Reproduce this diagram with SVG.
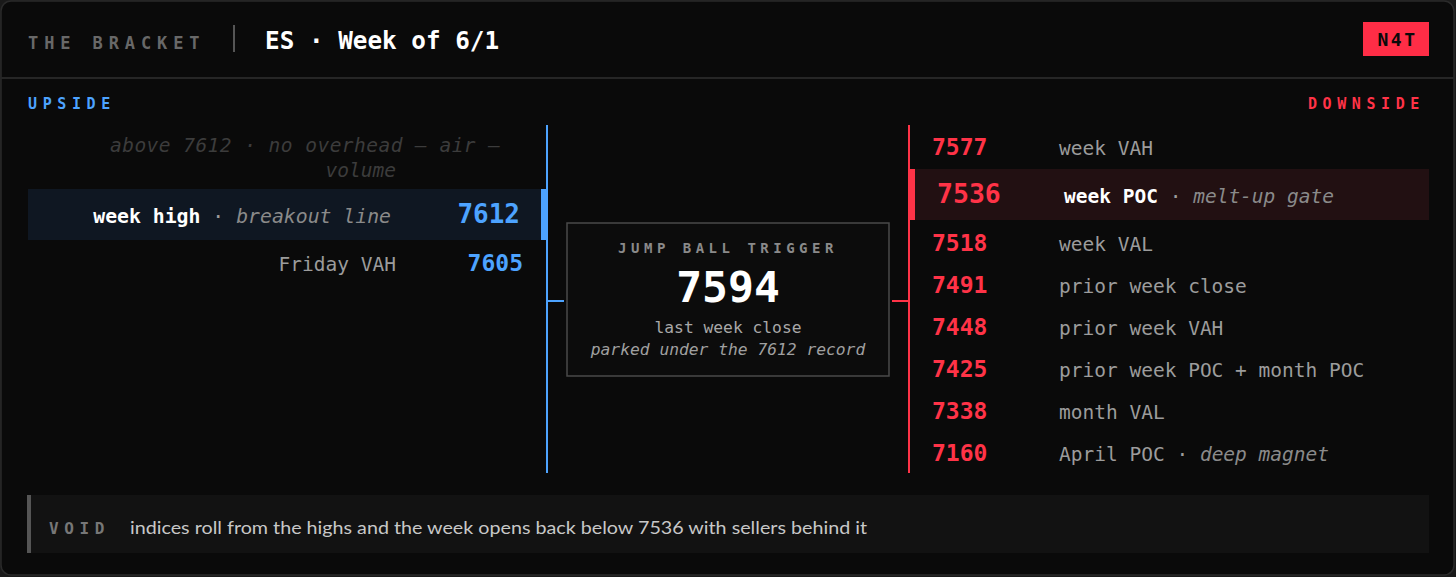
<svg xmlns="http://www.w3.org/2000/svg" width="1456" height="577" viewBox="0 0 1456 577">
<style>
.m{font-family:"DejaVu Sans Mono","Liberation Mono",monospace}
.lbl{font-size:19.5px;fill:#9c9c9c}
.it{font-style:italic;fill:#8a8a8a}
.hl{fill:#ffffff;font-weight:bold}
.nr{font-size:23px;font-weight:bold;fill:#ff3347}
.nb{font-size:23px;font-weight:bold;fill:#4da3ff}
.cap{font-size:15px;font-weight:bold;letter-spacing:5.6px}
</style>
<rect x="0" y="0" width="1456" height="577" fill="#1a1a1a"/>
<rect x="1" y="1" width="1453" height="574" rx="10" fill="#0a0a0a" stroke="#2a2a2a" stroke-width="1.5"/>
<g id="header">
<line x1="1" y1="78" x2="1454" y2="78" stroke="#262626" stroke-width="2"/>
<text class="m" x="28" y="49" font-size="17" font-weight="bold" letter-spacing="5.9" fill="#686868">THE BRACKET</text>
<rect x="233" y="25" width="2" height="27" fill="#555"/>
<text class="m" x="265" y="49" font-size="24.3" font-weight="bold" fill="#ffffff">ES · Week of 6/1</text>
<rect x="1363" y="22" width="66" height="34" fill="#ff2d46"/>
<text class="m" x="1397.5" y="46" font-size="18" font-weight="bold" letter-spacing="2.5" text-anchor="middle" fill="#0a0a0a">N4T</text>
</g>
<g id="upside">
<text class="m cap" x="28" y="109" fill="#4da3ff">UPSIDE</text>
<text class="m" x="500" y="152" font-size="19.5" font-style="italic" fill="#3c3c3c" text-anchor="end" textLength="390" lengthAdjust="spacing">above 7612 · no overhead — air —</text>
<text class="m" x="396" y="177" font-size="19.5" font-style="italic" fill="#3c3c3c" text-anchor="end">volume</text>
<g id="week-high">
<rect x="28" y="189" width="513" height="51" fill="#0f1722"/>
<rect x="541" y="189" width="6" height="51" fill="#4da3ff"/>
<text class="m lbl" x="391" y="223" text-anchor="end" style="font-size:19.8px"><tspan class="hl">week high</tspan> · <tspan class="it">breakout line</tspan></text>
<text class="m nb" x="520" y="223" style="font-size:26px" text-anchor="end">7612</text>
</g>
<g id="friday-vah">
<text class="m lbl" x="396" y="271" text-anchor="end">Friday VAH</text>
<text class="m nb" x="523" y="271" text-anchor="end">7605</text>
</g>
</g>
<g id="connectors">
<rect x="546" y="125" width="2" height="348" fill="#4da3ff"/>
<rect x="547" y="300" width="17" height="2" fill="#4da3ff"/>
<rect x="908" y="125" width="2" height="348" fill="#ff3347"/>
<rect x="892" y="300" width="17" height="2" fill="#ff3347"/>
</g>
<g id="trigger">
<rect x="567" y="223" width="322" height="153" fill="#0c0c0c" stroke="#4a4a4a" stroke-width="1.5"/>
<text class="m" x="728" y="253" font-size="14" font-weight="bold" letter-spacing="4.5" text-anchor="middle" fill="#8a8a8a">JUMP BALL TRIGGER</text>
<text class="m" x="728" y="302" font-size="43" font-weight="bold" text-anchor="middle" fill="#ffffff">7594</text>
<text class="m" x="728" y="333" font-size="16.3" text-anchor="middle" fill="#a8a8a8">last week close</text>
<text class="m" x="728" y="355" font-size="16.3" font-style="italic" text-anchor="middle" fill="#a0a0a0">parked under the 7612 record</text>
</g>
<g id="downside">
<text class="m cap" x="1425" y="109" fill="#ff3347" text-anchor="end">DOWNSIDE</text>
<g id="r7577"><text class="m nr" x="932" y="155">7577</text><text class="m lbl" x="1059" y="155">week VAH</text></g>
<g id="r7536">
<rect x="915" y="169" width="514" height="51" fill="#221012"/>
<rect x="909" y="169" width="6" height="51" fill="#ff3347"/>
<text class="m nr" x="937" y="203" style="font-size:26.5px">7536</text>
<text class="m lbl" x="1064" y="203"><tspan class="hl">week POC</tspan> · <tspan class="it">melt-up gate</tspan></text>
</g>
<g id="r7518"><text class="m nr" x="932" y="251">7518</text><text class="m lbl" x="1059" y="251">week VAL</text></g>
<g id="r7491"><text class="m nr" x="932" y="293">7491</text><text class="m lbl" x="1059" y="293">prior week close</text></g>
<g id="r7448"><text class="m nr" x="932" y="335">7448</text><text class="m lbl" x="1059" y="335">prior week VAH</text></g>
<g id="r7425"><text class="m nr" x="932" y="377">7425</text><text class="m lbl" x="1059" y="377">prior week POC + month POC</text></g>
<g id="r7338"><text class="m nr" x="932" y="419">7338</text><text class="m lbl" x="1059" y="419">month VAL</text></g>
<g id="r7160"><text class="m nr" x="932" y="461">7160</text><text class="m lbl" x="1059" y="461">April POC · <tspan class="it">deep magnet</tspan></text></g>
</g>
<g id="void">
<rect x="27" y="495" width="1402" height="58" fill="#121212"/>
<rect x="27" y="495" width="4" height="58" fill="#555"/>
<text class="m" x="49" y="534" font-size="16" font-weight="bold" letter-spacing="5.6" fill="#777">VOID</text>
<text x="130" y="534" font-family="Lato,'Noto Sans',sans-serif" font-size="18" fill="#c8c8c8" textLength="737" lengthAdjust="spacingAndGlyphs">indices roll from the highs and the week opens back below 7536 with sellers behind it</text>
</g>
</svg>
